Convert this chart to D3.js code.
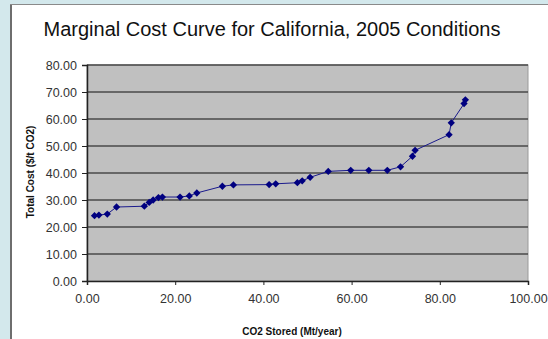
<!DOCTYPE html>
<html>
<head>
<meta charset="utf-8">
<script src="https://cdn.jsdelivr.net/npm/d3@7"></script>
<style>
  html, body { margin: 0; padding: 0; background: #d3e8ec; }
  svg { display: block; }
</style>
</head>
<body>
<script>
// CO2 almacenado (Mt/año) vs coste total ($/t CO2)
const stored = [1.7, 2.7, 4.6, 6.7, 13.0, 14.1, 15.0, 16.2, 17.1, 21.1, 23.2, 24.9, 30.7, 33.2,
  41.3, 42.8, 47.7, 48.8, 50.6, 54.7, 59.8, 63.9, 68.1, 71.1, 73.8, 74.4, 82.1, 82.6, 85.5, 85.8];
const cost = [24.2, 24.4, 24.8, 27.4, 27.7, 29.1, 30.0, 30.9, 31.1, 31.1, 31.5, 32.6, 35.1, 35.6,
  35.7, 36.0, 36.4, 37.1, 38.4, 40.6, 41.0, 41.0, 41.0, 42.3, 46.2, 48.4, 54.2, 58.6, 65.7, 67.1];
const xTicks = [0, 20, 40, 60, 80, 100];
const yTicks = [0, 10, 20, 30, 40, 50, 60, 70, 80];

const width = 548, height = 339;
const plot = {left: 87, right: 528, top: 65, bottom: 281};

const svg = d3.select("body").append("svg")
  .attr("width", width).attr("height", height)
  .style("font-family", "'Liberation Sans', Arial, sans-serif");

// Panel blanco con borde
svg.append("rect").attr("x", 11).attr("y", 5).attr("width", width).attr("height", height)
  .attr("fill", "#fff");
svg.append("line").attr("x1", 11).attr("x2", 11).attr("y1", 4).attr("y2", height)
  .attr("stroke", "#6e6e6e").attr("stroke-width", 2);
svg.append("line").attr("x1", 10).attr("x2", width).attr("y1", 4.5).attr("y2", 4.5)
  .attr("stroke", "#8a8a8a").attr("stroke-width", 1);

svg.append("text").attr("x", 272).attr("y", 36)
  .attr("text-anchor", "middle").attr("font-size", 20).attr("fill", "#111")
  .text("Marginal Cost Curve for California, 2005 Conditions");

const x = d3.scaleLinear().domain([0, 100]).range([plot.left, plot.right]);
const y = d3.scaleLinear().domain([0, 80]).range([plot.bottom, plot.top]);

// Área del gráfico
svg.append("rect")
  .attr("x", plot.left).attr("y", plot.top)
  .attr("width", plot.right - plot.left).attr("height", plot.bottom - plot.top)
  .attr("fill", "#c0c0c0").attr("stroke", "#9a9a9a");

// Grilla
svg.append("g").selectAll("line").data(yTicks.filter(d => d > 0)).join("line")
  .attr("x1", plot.left).attr("x2", plot.right)
  .attr("y1", d => y(d)).attr("y2", d => y(d))
  .attr("stroke", "#4a4a4a").attr("stroke-width", 1.5);

// Ejes
const xAxis = svg.append("g").attr("transform", `translate(0,${plot.bottom})`)
  .call(d3.axisBottom(x).tickValues(xTicks).tickFormat(d3.format(".2f")).tickSizeOuter(0).tickSize(4));
const yAxis = svg.append("g").attr("transform", `translate(${plot.left},0)`)
  .call(d3.axisLeft(y).tickValues(yTicks).tickFormat(d3.format(".2f")).tickSizeOuter(0).tickSize(5));
for (const ax of [xAxis, yAxis]) {
  ax.select(".domain").attr("stroke", "#222").attr("stroke-width", 1.5);
  ax.selectAll(".tick line").attr("stroke", "#222");
  ax.selectAll("text").attr("font-size", 12.5).attr("fill", "#333")
    .style("font-family", "'Liberation Sans', Arial, sans-serif");
}
xAxis.selectAll("text").attr("dy", "1.2em");
yAxis.selectAll("text").attr("x", -10);

svg.append("text").attr("x", 292).attr("y", 335)
  .attr("text-anchor", "middle").attr("font-size", 10).attr("font-weight", "bold").attr("fill", "#111")
  .text("CO2 Stored (Mt/year)");
svg.append("text").attr("transform", "rotate(-90)")
  .attr("x", -172).attr("y", 34)
  .attr("text-anchor", "middle").attr("font-size", 10).attr("font-weight", "bold").attr("fill", "#111")
  .text("Total Cost ($/t CO2)");

// Curva
const pts = stored.map((d, i) => [d, cost[i]]);
svg.append("path").datum(pts)
  .attr("fill", "none").attr("stroke", "#1a1a8c").attr("stroke-width", 1)
  .attr("d", d3.line().x(d => x(d[0])).y(d => y(d[1])));
svg.append("g").selectAll("path").data(pts).join("path")
  .attr("transform", d => `translate(${x(d[0])},${y(d[1])})`)
  .attr("d", d3.symbol(d3.symbolDiamond2, 34)())
  .attr("fill", "#000080");
</script>
</body>
</html>
